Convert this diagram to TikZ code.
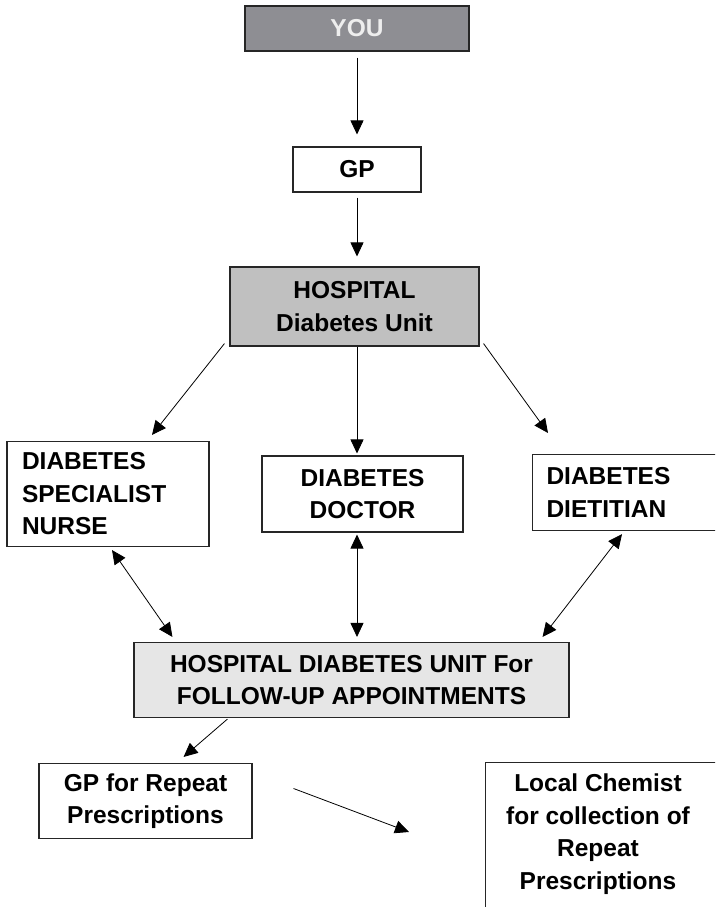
\documentclass[tikz,border=0pt]{standalone}
\usepackage{fontspec}
\setmainfont{Liberation Sans}
\usetikzlibrary{arrows.meta,calc}
\definecolor{youfill}{HTML}{8E8E93}
\definecolor{hospfill}{HTML}{C0C0C0}
\definecolor{follfill}{HTML}{E6E6E6}
\definecolor{youtext}{HTML}{EEEEEE}
\begin{document}
\begin{tikzpicture}[x=1pt,y=-1pt,
  box/.style={draw=black!85, line width=1.1pt, inner sep=0pt,
    font=\bfseries\fontsize{24.5}{32.5}\selectfont, align=center},
  txt/.style={inner sep=0pt, font=\bfseries\fontsize{24.5}{32.5}\selectfont, align=center},
  arr/.style={-{Triangle[length=14pt,width=13pt]}, line width=0.8pt},
  darr/.style={{Triangle[length=14pt,width=13pt]}-{Triangle[length=14pt,width=13pt]}, line width=0.8pt}]
\useasboundingbox (0,0) rectangle (715,907);
\clip (0,0) rectangle (715,907);

% nodes
\node[box, fill=youfill, text=youtext, minimum width=224, minimum height=45] (you) at (357,28.5) {YOU};
\node[box, minimum width=128, minimum height=45] (gp) at (357,169.5) {GP};
\node[box, fill=hospfill, minimum width=249, minimum height=79] (hosp) at (354.5,306.5) {HOSPITAL\\Diabetes Unit};
\node[box, minimum width=202, minimum height=105, inner xsep=15pt, text width=172, align=left] (nurse) at (108,494) {DIABETES\\SPECIALIST\\NURSE};
\node[box, minimum width=201, minimum height=76] (doctor) at (362.5,494) {DIABETES\\DOCTOR};
\node[box, anchor=north west, minimum width=260, minimum height=76, inner xsep=14pt, text width=232, align=left] (diet) at (532,454) {DIABETES\\DIETITIAN};
\node[box, fill=follfill, minimum width=435, minimum height=75] (follow) at (351.5,680) {HOSPITAL DIABETES UNIT For\\FOLLOW-UP APPOINTMENTS};
\node[box, minimum width=213, minimum height=75] (gprep) at (145.5,801) {GP for Repeat\\Prescriptions};
\node[box, anchor=north west, minimum width=320, minimum height=220] (chem) at (485,762) {};
\node[txt] (chemtext) at (598,834) {Local Chemist\\for collection of\\Repeat\\Prescriptions};
\coordinate (chemarrow) at (409,832);

% connectors
\draw[arr] ($(you.south)+(0,6)$) -- ($(gp.north)+(0,-12)$);
\draw[arr] ($(gp.south)+(0,5)$) -- ($(gp.south |- hosp.north)+(0,-10)$);
\draw[arr] ($(hosp.south west)+(-5,-3)$) -- ($(nurse.north)+(44,-6)$);
\draw[arr] ($(hosp.south)+(2.5,0)$) -- ($(doctor.north)+(-5.5,-2)$);
\draw[arr] ($(hosp.south east)+(4,-3)$) -- ($(diet.north west)+(16,-21)$);
\draw[darr] ($(nurse.south)+(4,3)$) -- ($(follow.north west)+(39,-5)$);
\draw[darr] ($(doctor.south)+(-5.5,2)$) -- ($(follow.north)+(5.5,-5)$);
\draw[darr] ($(diet.south west)+(90,3)$) -- ($(follow.north east)+(-27,-5)$);
\draw[arr] ($(follow.south west)+(94,1)$) -- ($(gprep.north east)+(-69,-6)$);
\draw[arr] ($(gprep.east)+(41,-12.5)$) -- (chemarrow);
\end{tikzpicture}
\end{document}
